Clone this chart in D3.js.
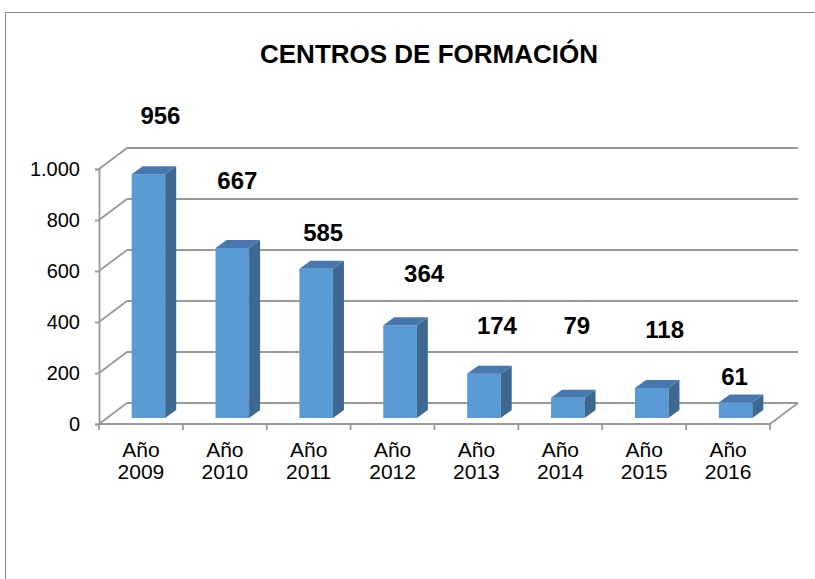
<html>
<head>
<meta charset="utf-8">
<script src="https://d3js.org/d3.v7.min.js"></script>
<style>
body {margin: 0; background: white;}
text {font-family: "Liberation Sans", Arial, sans-serif; fill: #000;}
</style>
</head>
<body>
<svg width="815" height="579"></svg>
<script>
// data
var years = ["Año 2009", "Año 2010", "Año 2011", "Año 2012", "Año 2013", "Año 2014", "Año 2015", "Año 2016"];
var centros = [956, 667, 585, 364, 174, 79, 118, 61];
var yTicks = [0, 200, 400, 600, 800, 1000];
var yTickLabels = ["0", "200", "400", "600", "800", "1.000"];

// label nudges (Excel puts the 3D labels a bit loosely)
var labelDx = [12, 5, 7, 24, 13, 9, 13, -1];
var labelDy = [-50, -59, -28, -43, -40, -64, -50, -17];

var svg = d3.select("svg");

//scales
var xscale = d3.scaleBand().domain(years).range([99, 770]);
var yscale = d3.scaleLinear().domain([0, 1000]).range([424, 169]);

// depth of the 3d box and of the bars
var wallDx = 28, wallDy = -21;
var barDx = 11, barDy = -8;
var barOx = 7.5, barOy = -6;
var barW = xscale.bandwidth() * 0.4;
var grid = "#999999";

//outer border
svg.append("rect").attr("x", 5.5).attr("y", 12.5).attr("width", 830).attr("height", 600)
    .style("fill", "none").style("stroke", "#8a8a8a").style("stroke-width", 1);

//title
svg.append("text").attr("x", 429).attr("y", 63)
    .attr("text-anchor", "middle").style("font-size", "26px").style("font-weight", "bold")
    .text("CENTROS DE FORMACIÓN");

//gridlines: side wall diagonal + back wall horizontal
var g = svg.append("g").style("stroke", grid).style("stroke-width", 1.8).style("fill", "none");
yTicks.forEach(function(v) {
    g.append("line").attr("x1", 99).attr("y1", yscale(v)).attr("x2", 99 + wallDx).attr("y2", yscale(v) + wallDy);
    g.append("line").attr("x1", 99 + wallDx).attr("y1", yscale(v) + wallDy).attr("x2", 770 + wallDx).attr("y2", yscale(v) + wallDy);
});

//floor front + right edge
g.append("line").attr("x1", 99).attr("y1", yscale(0)).attr("x2", 770).attr("y2", yscale(0));
g.append("line").attr("x1", 770).attr("y1", yscale(0)).attr("x2", 770 + wallDx).attr("y2", yscale(0) + wallDy);

//y axis
svg.append("g")
    .attr("transform", "translate(99,0)")
    .call(d3.axisLeft(yscale).tickValues(yTicks).tickSize(4).tickPadding(15)
        .tickFormat(function(d, i) { return yTickLabels[i]; }))
    .call(function(a) {
        a.select(".domain").style("stroke", grid).style("stroke-width", 1.8);
        a.selectAll(".tick line").style("stroke", grid).style("stroke-width", 1.8);
        a.selectAll("text").style("font-size", "20px").style("font-family", "'Liberation Sans', Arial, sans-serif").style("fill", "#000");
    });

//x axis ticks on band edges
var edges = years.map(function(c) { return xscale(c); }).concat([770]);
svg.append("g").selectAll("line").data(edges).enter().append("line")
    .attr("x1", function(d) { return d; }).attr("x2", function(d) { return d; })
    .attr("y1", yscale(0)).attr("y2", yscale(0) + 6)
    .style("stroke", grid).style("stroke-width", 1.8);

//x labels
var xl = svg.append("g").selectAll("text").data(years).enter().append("text")
    .attr("text-anchor", "middle")
    .attr("x", function(d) { return xscale(d) + xscale.bandwidth() / 2; })
    .attr("y", 457)
    .style("font-size", "21px");
xl.append("tspan").text(function(d) { return d.split(" ")[0]; });
xl.append("tspan").attr("dy", 22)
    .attr("x", function(d) { return xscale(d) + xscale.bandwidth() / 2; })
    .text(function(d) { return d.split(" ")[1]; });

//bars
var data = years.map(function(c, i) { return {cat: c, val: centros[i], i: i}; });
var bars = svg.append("g").selectAll("g").data(data).enter().append("g");

function barLeft(d) { return xscale(d.cat) + xscale.bandwidth() * 0.3 + barOx; }
function barTop(d) { return yscale(d.val) + barOy; }
var base = yscale(0) + barOy;

bars.append("rect")
    .attr("x", barLeft)
    .attr("y", barTop)
    .attr("width", barW)
    .attr("height", function(d) { return base - barTop(d); })
    .style("fill", "#5b9bd5");

bars.append("polygon")
    .attr("points", function(d) {
        var r = barLeft(d) + barW, t = barTop(d);
        return [[r, t], [r + barDx, t + barDy], [r + barDx, base + barDy], [r, base]].join(" ");
    })
    .style("fill", "#3d6991");

bars.append("polygon")
    .attr("points", function(d) {
        var l = barLeft(d), r = l + barW, t = barTop(d);
        return [[l, t], [l + barDx, t + barDy], [r + barDx, t + barDy], [r, t]].join(" ");
    })
    .style("fill", "#4878ad");

//value labels
bars.append("text")
    .attr("text-anchor", "middle")
    .attr("x", function(d) { return barLeft(d) + barW / 2 + labelDx[d.i]; })
    .attr("y", function(d) { return barTop(d) + labelDy[d.i]; })
    .style("font-size", "24px").style("font-weight", "bold")
    .text(function(d) { return d.val; });
</script>
</body>
</html>
